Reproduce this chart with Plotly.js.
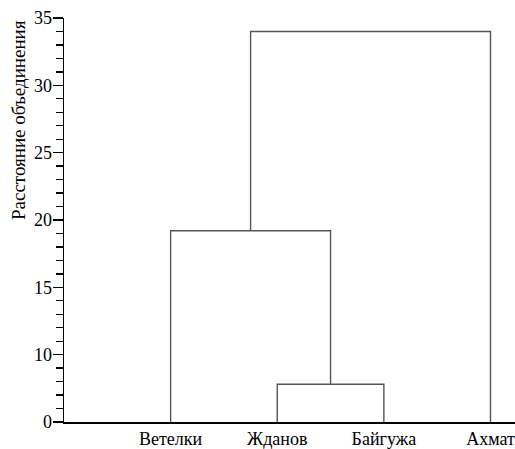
<!DOCTYPE html>
<html>
<head>
<meta charset="utf-8">
<script src="https://cdn.plot.ly/plotly-3.0.1.min.js"></script>
<style>html,body{margin:0;padding:0;background:#fff;}#chart{width:515px;height:449px;}</style>
</head>
<body>
<div id="chart"></div>
<script>
// Leaves of the dendrogram (left to right)
const leaves = ['Ветелки', 'Жданов', 'Байгужа', 'Ахмат'];
// Merges: [left node, right node, linkage distance]; nodes >= leaves.length are earlier merges
const mergeLeft = [1, 0, 5];
const mergeRight = [2, 4, 3];
const mergeHeight = [7.8, 19.2, 34];
// Axis tick labels (reference axis labels the bottom as 0)
const yTickVals = [5, 10, 15, 20, 25, 30, 35];
const yTickText = ['0', '10', '15', '20', '25', '30', '35'];
const baseHeight = 5;
const yTitle = 'Расстояние объединения';

const nodeX = leaves.map((_, i) => i + 1);
const nodeY = leaves.map(() => baseHeight);
const xs = [], ys = [];
for (let k = 0; k < mergeHeight.length; k++) {
  const a = mergeLeft[k], b = mergeRight[k], h = mergeHeight[k];
  xs.push(nodeX[a], nodeX[a], nodeX[b], nodeX[b], null);
  ys.push(nodeY[a], h, h, nodeY[b], null);
  nodeX.push((nodeX[a] + nodeX[b]) / 2);
  nodeY.push(h);
}

const minorVals = [];
for (let v = 6; v < 35; v++) if (v % 5 !== 0) minorVals.push(v);

const font = {family: 'Liberation Serif', size: 18, color: '#000'};
const titleFont = {family: 'Liberation Serif', size: 19, color: '#000'};

Plotly.newPlot('chart', [{
  x: xs, y: ys, mode: 'lines', type: 'scatter',
  line: {color: '#555', width: 1.4}, hoverinfo: 'skip', showlegend: false
}], {
  width: 515, height: 449,
  margin: {l: 64, r: 0, t: 18, b: 27},
  paper_bgcolor: '#fff', plot_bgcolor: '#fff',
  font: font,
  xaxis: {
    range: [0, 4.23], tickmode: 'array', tickvals: leaves.map((_, i) => i + 1), ticktext: leaves,
    ticks: '', showgrid: false, zeroline: false, showline: true, linecolor: '#000', linewidth: 1.5,
    tickfont: font, fixedrange: true
  },
  yaxis: {
    range: [5, 35], tickmode: 'array', tickvals: yTickVals, ticktext: yTickText,
    ticks: 'outside', ticklen: 10, tickwidth: 1.3, tickcolor: '#000',
    ticklabelstandoff: -3,
    minor: {tickmode: 'array', tickvals: minorVals, ticks: 'outside', ticklen: 7, tickwidth: 1.3, tickcolor: '#000', showgrid: false},
    showgrid: false, zeroline: false, showline: true, linecolor: '#000', linewidth: 1.5,
    tickfont: font, fixedrange: true
  },
  annotations: [{
    text: yTitle, textangle: -90, showarrow: false,
    xref: 'paper', yref: 'paper', x: -0.102, y: 0.7475, xanchor: 'center', yanchor: 'middle',
    font: titleFont
  }]
}, {displayModeBar: false, staticPlot: true});
</script>
</body>
</html>
